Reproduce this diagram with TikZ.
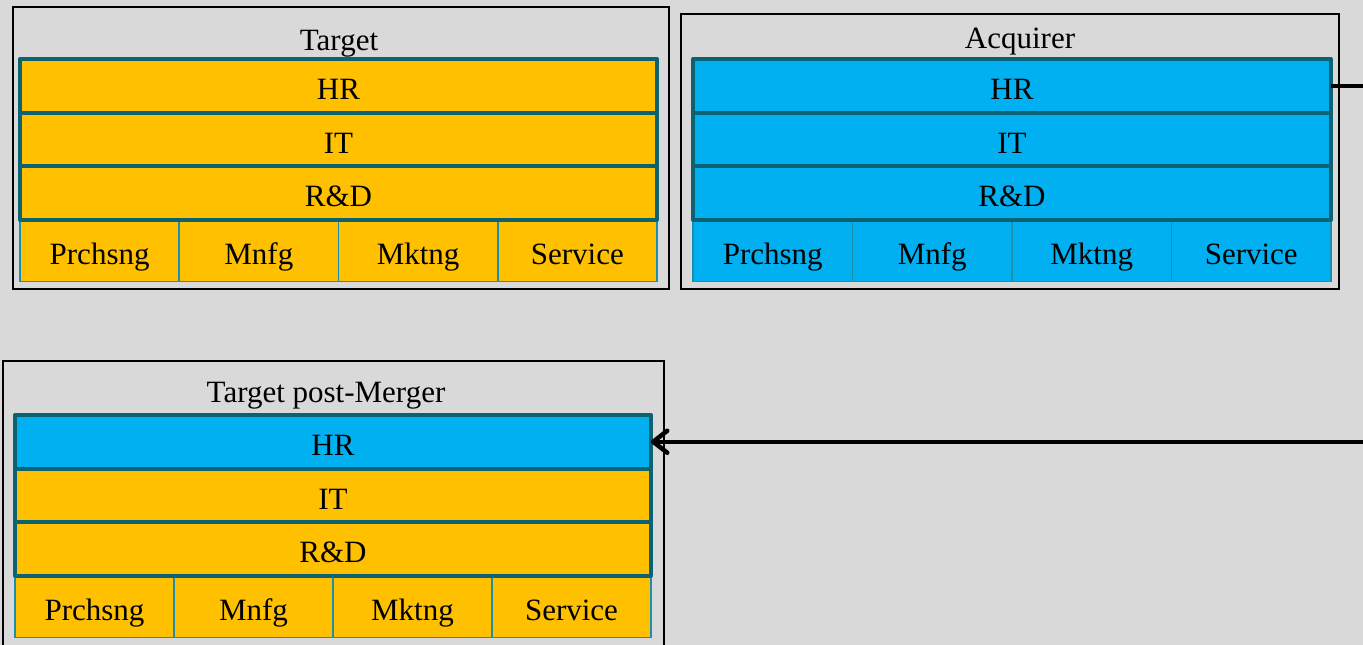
\documentclass[tikz,border=0pt]{standalone}
\usepackage{fontspec}
\setmainfont{Liberation Serif}
\usetikzlibrary{arrows.meta}
\definecolor{canvas}{HTML}{D9D9D9}
\definecolor{amber}{HTML}{FFC000}
\definecolor{azure}{HTML}{00B0F0}
\definecolor{tealedge}{HTML}{0D6272}
\definecolor{celledge}{HTML}{1A8FAE}

\tikzset{
  labelfont/.style={font=\fontsize{31}{37}\selectfont, text height=28pt, text depth=0pt},
  barbox/.style={draw=tealedge, line width=4pt, line join=round, rectangle, inner sep=0pt, outer sep=0pt,
                 minimum height=53.5pt, anchor=north west, labelfont},
  cellbox/.style={draw=celledge, line width=1.6pt, rectangle, inner sep=0pt, outer sep=0pt,
                  minimum height=62pt, anchor=north west, labelfont},
  framebox/.style={draw=black, line width=1.8pt, rectangle, inner sep=0pt, outer sep=0pt,
                   anchor=north west},
  titletext/.style={anchor=base, font=\fontsize{31}{37}\selectfont},
  link/.style={draw=black, line width=4.5pt, line join=round},
}

% #1 prefix, #2 left, #3 top, #4 width, #5 HR fill, #6 IT/R&D fill, #7 cell fill
\newcommand\deptstack[7]{%
  \foreach \lab [count=\i from 0] in {Prchsng,Mnfg,Mktng,Service}
    \node[cellbox, fill=#7, minimum width=#4/4] (#1c\i) at ({#2+\i*#4/4},{#3+160.5}) {\lab};
  \node[barbox, fill=#6, minimum width=#4] (#1RD) at (#2,{#3+107}) {R\&D};
  \node[barbox, fill=#6, minimum width=#4] (#1IT) at (#2,{#3+53.5}) {IT};
  \node[barbox, fill=#5, minimum width=#4] (#1HR) at (#2,#3) {HR};
}

\begin{document}
\begin{tikzpicture}[x=1pt, y=-1pt]
  \clip (0,0) rectangle (1363,645);
  \fill[canvas] (0,0) rectangle (1363,645);

  % company frames
  \node[framebox, minimum width=656pt, minimum height=282pt] (tframe) at (13,7) {};
  \node[framebox, minimum width=658pt, minimum height=275pt] (aframe) at (681,14) {};
  \node[framebox, minimum width=661pt, minimum height=300pt] (pframe) at (3,361) {};

  % titles
  \node[titletext] (ttitle) at (339,50) {Target};
  \node[titletext] (atitle) at (1020,48) {Acquirer};
  \node[titletext] (ptitle) at (326,402) {Target post-Merger};

  % department stacks
  \deptstack{t}{20}{59}{637}{amber}{amber}{amber}
  \deptstack{a}{693}{59}{638}{azure}{azure}{azure}
  \deptstack{p}{15}{415}{636}{azure}{amber}{amber}

  % HR function moved from the acquirer into the merged target
  \path (aHR.east) ++(80,0) coordinate (route);
  \draw[link, -{Straight Barb[length=14pt, width=22pt, line cap=round, line join=round]}]
    (aHR.east) -- (route) |- (pHR.east);
\end{tikzpicture}
\end{document}
